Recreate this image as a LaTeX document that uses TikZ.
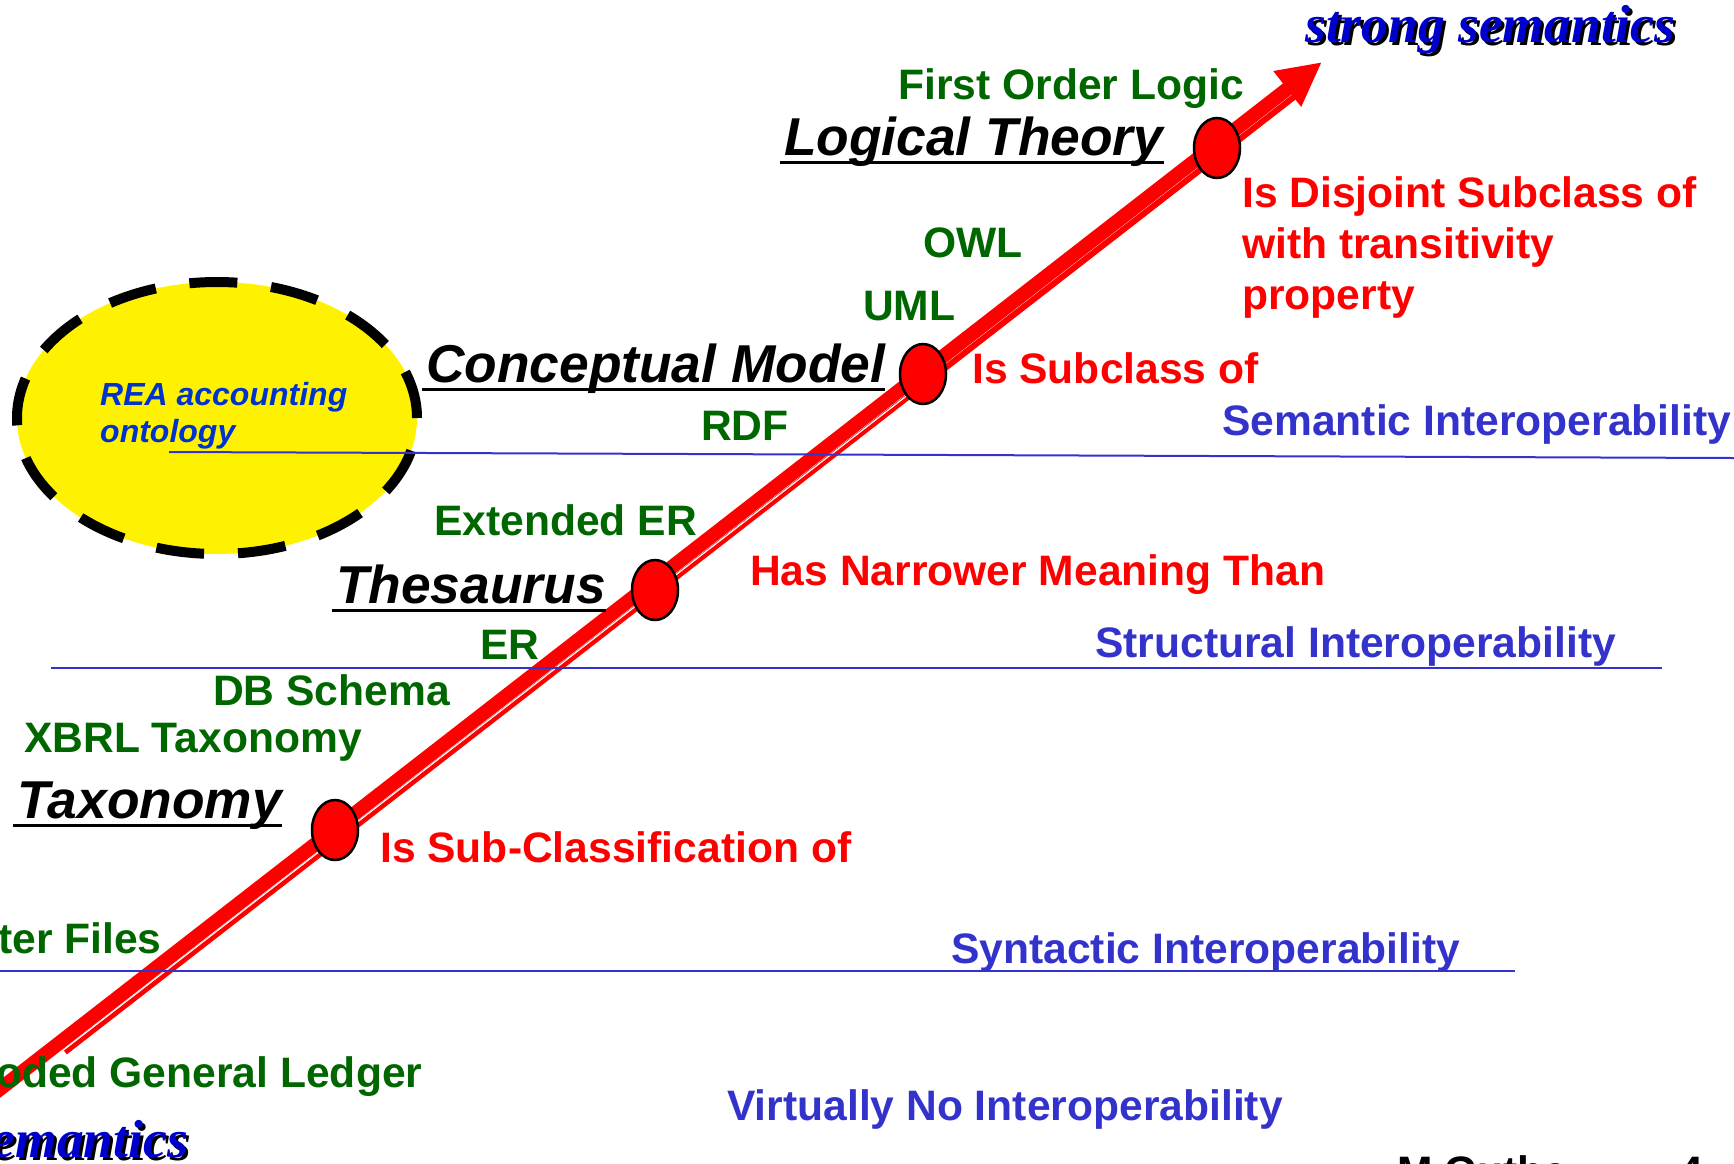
\documentclass[tikz,border=0pt]{standalone}
\usepackage{fontspec}
\setmainfont{Liberation Sans}
\newfontfamily\spectrumfont{Liberation Serif}
\usetikzlibrary{shapes.geometric,arrows.meta}

\definecolor{langgreen}{RGB}{0,102,0}
\definecolor{interblue}{RGB}{51,51,204}
\definecolor{reablue}{RGB}{0,51,204}
\definecolor{endblue}{RGB}{0,0,204}

\newcommand{\shadowed}[1]{\makebox[0pt][l]{\hspace{3pt}\raisebox{-3pt}{\color{black}#1}}{\color{endblue}#1}}

\begin{document}
\begin{tikzpicture}[x=1pt, y=-1pt,
    lbl/.style={anchor=base west, inner sep=0pt, font=\bfseries\fontsize{42.6}{51}\selectfont},
    langlbl/.style={lbl, text=langgreen},
    rellbl/.style={lbl, text=red, align=left},
    interlbl/.style={lbl, text=interblue},
    levellbl/.style={anchor=base west, inner sep=0pt, font=\bfseries\itshape\fontsize{53.3}{60}\selectfont},
    endlbl/.style={inner sep=0pt, font=\spectrumfont\bfseries\itshape\fontsize{53.5}{60}\selectfont},
    uline/.style={line width=3pt},
    dot/.style={ellipse, draw=black, fill=red, line width=2.5pt, minimum width=46pt, minimum height=60pt, inner sep=0pt},
    sepline/.style={draw=interblue, line width=2pt},
    spine/.style={red, line width=14pt, -{Triangle[length=44pt,width=42pt]}}
  ]
  \useasboundingbox (0,0) rectangle (1734,1163);
  \clip (0,0) rectangle (1734,1163);

  % REA ontology bubble
  \node[ellipse, draw=black, fill=yellow, line width=10pt, dash pattern=on 48pt off 34pt,
        minimum width=400pt, minimum height=272pt] (rea) at (217,418) {};
  \node[anchor=base west, inner sep=0pt, align=left, text=reablue,
        font=\bfseries\itshape\fontsize{32}{37}\selectfont] (reatext) at (100,442) {REA accounting\\ontology};

  % the arrow from weak to strong semantics
  \coordinate (lowend) at (-30,1112.3);
  \coordinate (tip) at (1322,62);
  \coordinate (twinstart) at (65,1052);
  \coordinate (twinend) at (1296.8,94.8);
  \coordinate (gapstart) at (63,1050.4);
  \coordinate (gapend) at (927.4,379.7);
  \draw[spine] (lowend) -- (tip);
  \draw[red, line width=6pt] (twinstart) -- (twinend);
  \draw[white, line width=1.2pt] (gapstart) -- (gapend);

  \node[dot] (taxdot) at (335,830) {};
  \node[dot] (thesdot) at (655,590) {};
  \node[dot] (concdot) at (923,374) {};
  \node[dot] (logdot) at (1217,148) {};

  % interoperability levels
  \coordinate (semL) at (169,452);
  \coordinate (semR) at (1734,458);
  \coordinate (strL) at (51,668);
  \coordinate (strR) at (1662,668);
  \coordinate (synL) at (0,971);
  \coordinate (synR) at (1515,971);
  \draw[sepline] (semL) -- (semR);
  \draw[sepline] (strL) -- (strR);
  \draw[sepline] (synL) -- (synR);

  \node[interlbl] (semantic) at (1222,435) {Semantic Interoperability};
  \node[interlbl] (structural) at (1095,657) {Structural Interoperability};
  \node[interlbl] (syntactic) at (951,963) {Syntactic Interoperability};
  \node[interlbl] (noint) at (727,1120) {Virtually No Interoperability};

  % kinds of model
  \node[levellbl] (logical) at (784,155) {Logical Theory};
  \node[levellbl] (conceptual) at (426,382) {Conceptual Model};
  \node[levellbl] (thesaurus) at (336,603) {Thesaurus};
  \node[levellbl] (taxonomy) at (17,818) {Taxonomy};
  \foreach \n in {logical,conceptual,thesaurus,taxonomy}
    \draw[uline] ([xshift=-4pt,yshift=-7pt]\n.base west) -- ([yshift=-7pt]\n.base east);

  % languages
  \node[langlbl] (fol) at (898,99) {First Order Logic};
  \node[langlbl] (owl) at (923,257) {OWL};
  \node[langlbl] (uml) at (863,320) {UML};
  \node[langlbl] (rdf) at (701,440) {RDF};
  \node[langlbl] (eer) at (434,535) {Extended ER};
  \node[langlbl] (er) at (480,659) {ER};
  \node[langlbl] (dbs) at (213,705) {DB Schema};
  \node[langlbl] (xbrl) at (24,752) {XBRL Taxonomy};
  \node[langlbl] (files) at (-2,953) {ter Files};
  \node[langlbl] (ledger) at (-4,1087) {oded General Ledger};

  % relations
  \node[rellbl] (disjoint) at (1242,309) {Is Disjoint Subclass of\\with transitivity\\property};
  \node[rellbl] (subclass) at (972,383) {Is Subclass of};
  \node[rellbl] (narrower) at (750,585) {Has Narrower Meaning Than};
  \node[rellbl] (subclassif) at (380,862) {Is Sub-Classification of};

  % ends of the spectrum
  \node[endlbl, anchor=base west] (strong) at (1305,42) {\shadowed{strong semantics}};
  \node[endlbl, anchor=base east] (weak) at (188,1157) {\shadowed{emantics}};

  % slide footer, cut by the lower edge
  \node[lbl, text=black] (footer) at (1397,1186) {M.Guthe\hspace{112pt}4};
\end{tikzpicture}
\end{document}
